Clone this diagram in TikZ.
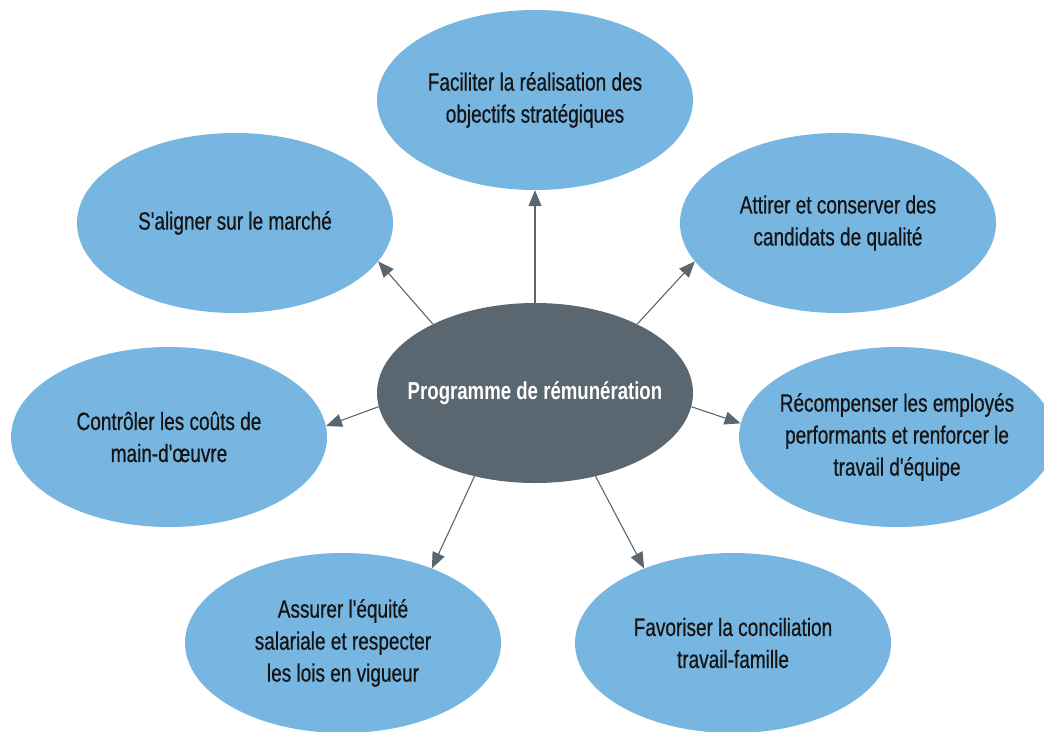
\documentclass[tikz,border=0pt]{standalone}
\usepackage{fontspec}
\setmainfont{Liberation Sans}[FakeStretch=0.76, Ligatures=TeXOff, UprightFeatures={FakeBold=0.6}]
\usetikzlibrary{shapes.geometric,arrows.meta}
\definecolor{blobc}{HTML}{78B6E2}
\definecolor{hubc}{HTML}{5B6770}
\definecolor{inkc}{HTML}{141414}
\begin{document}
\begin{tikzpicture}[x=1pt,y=-1pt,
  oval/.style={ellipse, fill=blobc, minimum width=316pt, minimum height=180pt, inner sep=0pt},
  hubov/.style={oval, fill=hubc},
  txt/.style={align=center, text=inkc, font=\fontsize{25}{32}\selectfont, inner sep=0pt},
  hubtxt/.style={align=center, text=white, font=\bfseries\fontsize{24.5}{32}\selectfont, inner sep=0pt},
  link/.style={draw=hubc, line width=1.1pt, -{Triangle[length=16pt,width=13pt]}}
]
\useasboundingbox (0,0) rectangle (1044,731);
\node[hubov] (c) at (535,393) {};
\node[oval] (t) at (535,100) {};
\node[oval] (tl) at (235,223) {};
\node[oval] (tr) at (838,223) {};
\node[oval] (l) at (169,437) {};
\node[oval] (r) at (897,437) {};
\node[oval] (bl) at (343,643) {};
\node[oval] (br) at (733,643) {};

\node[hubtxt] (ct) at (c) {Programme de rémunération};
\node[txt] (tt) at (t) {Faciliter la réalisation des\\objectifs stratégiques};
\node[txt] (tlt) at (tl) {S'aligner sur le marché};
\node[txt] (trt) at (tr) {Attirer et conserver des\\candidats de qualité};
\node[txt] (lt) at (l) {Contrôler les coûts de\\main-d'œuvre};
\node[txt] (rt) at (r) {Récompenser les employés\\performants et renforcer le\\travail d'équipe};
\node[txt] (blt) at (bl) {Assurer l'équité\\salariale et respecter\\les lois en vigueur};
\node[txt] (brt) at (br) {Favoriser la conciliation\\travail-famille};

\draw[link] (c.90) -- (t.270);
\draw[link] (c.146) -- (tl.-15);
\draw[link] (c.34) -- (tr.195);
\draw[link] (c.185.5) -- (l.4.7);
\draw[link] (c.-5.5) -- (r.175);
\draw[link] (c.234) -- (bl.40);
\draw[link] (c.306) -- (br.140);
\end{tikzpicture}
\end{document}
